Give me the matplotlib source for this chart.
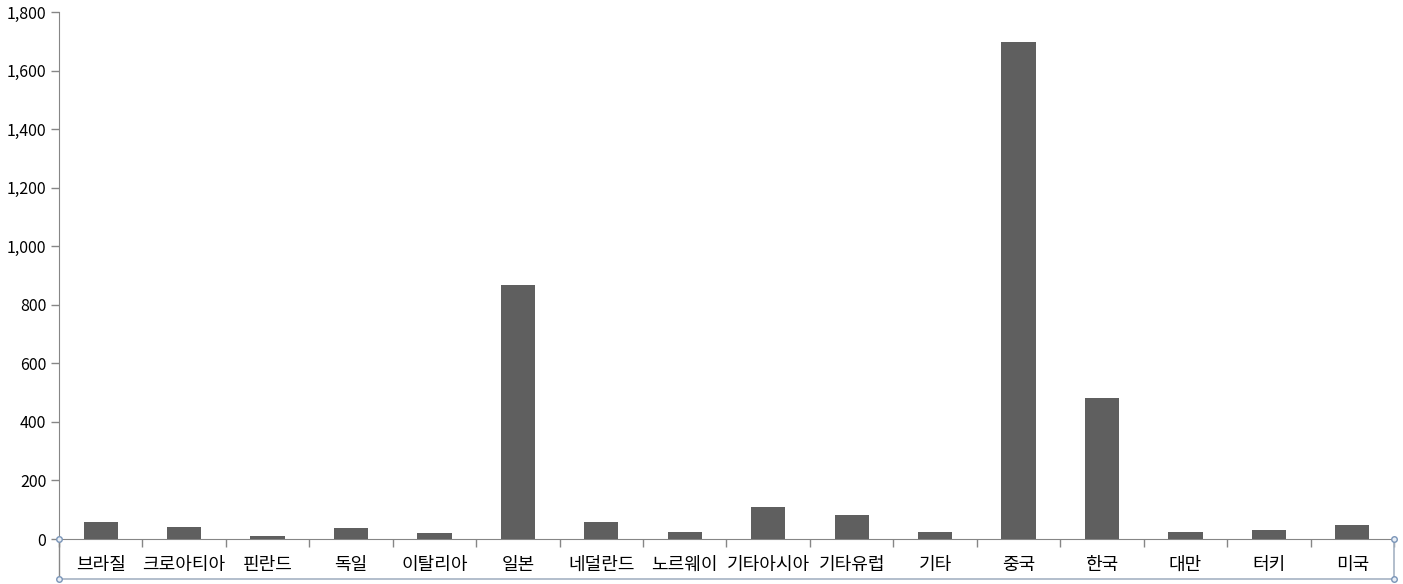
import matplotlib
matplotlib.use("Agg")
import matplotlib.pyplot as plt
from matplotlib.lines import Line2D
from matplotlib.ticker import FuncFormatter, MultipleLocator
import numpy as np

plt.rcParams['font.family'] = ['Noto Sans CJK KR', 'DejaVu Sans']

categories = ["브라질", "크로아티아", "핀란드", "독일", "이탈리아", "일본", "네덜란드", "노르웨이",
              "기타아시아", "기타유럽", "기타", "중국", "한국", "대만", "터키", "미국"]
values = [58, 42, 11, 38, 21, 868, 58, 24, 109, 82, 24, 1698, 482, 24, 31, 48]

W, H = 1403, 584
fig = plt.figure(figsize=(W / 100, H / 100), dpi=100)
x0, x1, ybase, ytop = 59, 1394, 539, 12
ax = fig.add_axes([x0 / W, (H - ybase) / H, (x1 - x0) / W, (ybase - ytop) / H])

n = len(categories)
xs = np.arange(n)
ax.bar(xs, values, width=0.41, color="#5f5f5f", zorder=3)
ax.set_xlim(-0.5, n - 0.5)
ax.set_ylim(0, 1800)
ax.yaxis.set_major_locator(MultipleLocator(200))
ax.yaxis.set_major_formatter(FuncFormatter(lambda v, p: f"{int(v):,}"))

axis_col = "#868686"
for s in ["top", "right"]:
    ax.spines[s].set_visible(False)
ax.spines["left"].set_color(axis_col)
ax.spines["bottom"].set_color(axis_col)
ax.tick_params(axis="y", colors=axis_col, length=6, width=1, labelcolor="#000000",
               labelsize=11.5, pad=3)
# category boundary ticks
ax.set_xticks(np.arange(-0.5, n, 1.0), minor=False)
ax.set_xticklabels([])
ax.tick_params(axis="x", which="major", colors=axis_col, length=6, width=1, direction="out")
for i, c in enumerate(categories):
    ax.text(i, -0.05, c, transform=ax.get_xaxis_transform(), ha="center", va="center",
            fontsize=13, color="#000000")

# label box and selection handles (figure pixel coords)
box_col = "#a6b3c4"
ybot = 579
def fx(px):
    return px / W
def fy(py):
    return (H - py) / H
fig.add_artist(Line2D([fx(x0), fx(x0)], [fy(ybase), fy(ybot)], color=axis_col, lw=1))
fig.add_artist(Line2D([fx(x0), fx(x1)], [fy(ybot), fy(ybot)], color=box_col, lw=1.2))
fig.add_artist(Line2D([fx(x1), fx(x1)], [fy(ybase), fy(ybot)], color=box_col, lw=1.2))
for (px, py) in [(x0, ybase), (x0, ybot), (x1, ybase), (x1, ybot)]:
    fig.add_artist(Line2D([fx(px)], [fy(py)], marker="o", markersize=4,
                          markerfacecolor="#e8eef6", markeredgecolor="#7a95b8", lw=0))

fig.savefig("out.png", dpi=100)
